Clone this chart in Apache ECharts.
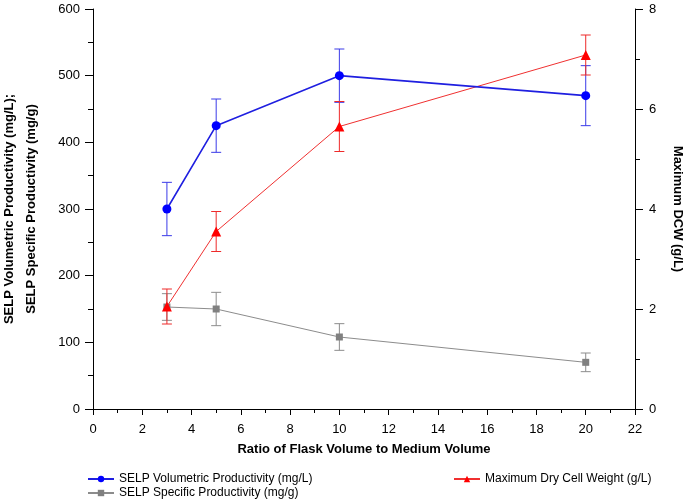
<!DOCTYPE html>
<html><head><meta charset="utf-8">
<script src="https://cdn.jsdelivr.net/npm/echarts@6/dist/echarts.min.js"></script>
<style>html,body{margin:0;padding:0;background:#fff}#c{width:685px;height:500px}</style>
</head><body><div id="c"></div>
<script>
var ratios = [3, 5, 10, 20];
var volProd = [300, 425, 500, 470];
var volProdErr = [40, 40, 40, 45];
var dcw = [2.05, 3.55, 5.65, 7.08];
var dcwErr = [0.35, 0.4, 0.5, 0.4];
var specProd = [153, 150, 108, 70];
var specProdErr = [20, 25, 20, 14];
var xTicks = [0, 2, 4, 6, 8, 10, 12, 14, 16, 18, 20, 22];
var leftTicks = [0, 100, 200, 300, 400, 500, 600];
var rightTicks = [0, 2, 4, 6, 8];

var FONT = '"Liberation Sans", Arial, sans-serif';
function pts(xs, ys){ return xs.map(function(x,i){return [x, ys[i]];}); }
function errData(xs, ys, es){ return xs.map(function(x,i){return [x, ys[i]-es[i], ys[i]+es[i]];}); }
function errSeries(name, data, yIdx, color){
  return {
    type: 'custom', name: name + ' err', yAxisIndex: yIdx, z: 1, silent: true,
    data: data,
    renderItem: function(params, api){
      var lo = api.coord([api.value(0), api.value(1)]);
      var hi = api.coord([api.value(0), api.value(2)]);
      var w = 5;
      var st = {stroke: color, lineWidth: 1, fill: null};
      return {type:'group', children:[
        {type:'line', shape:{x1:lo[0], y1:lo[1], x2:hi[0], y2:hi[1]}, style: st},
        {type:'line', shape:{x1:lo[0]-w, y1:lo[1], x2:lo[0]+w, y2:lo[1]}, style: st},
        {type:'line', shape:{x1:hi[0]-w, y1:hi[1], x2:hi[0]+w, y2:hi[1]}, style: st}
      ]};
    }
  };
}
var axisCommon = {
  axisLine: {show: true, lineStyle: {color: '#000', width: 1}},
  splitLine: {show: false},
  nameTextStyle: {color: '#000', fontSize: 13, fontWeight: 'bold', fontFamily: FONT}
};
var legText = {fontSize: 12, fontFamily: FONT, color: '#000'};
var chart = echarts.init(document.getElementById('c'));
chart.setOption({
  animation: false,
  backgroundColor: '#fff',
  grid: {left: 93, right: 50, top: 9, bottom: 91, containLabel: false, outerBoundsMode: 'none'},
  xAxis: Object.assign({}, axisCommon, {
    type: 'value', min: xTicks[0], max: xTicks[xTicks.length-1], interval: 2,
    name: 'Ratio of Flask Volume to Medium Volume', nameLocation: 'middle', nameGap: 34,
    axisTick: {show: true, inside: false, length: 6, lineStyle: {color: '#000'}},
    minorTick: {show: true, splitNumber: 2, length: 4, lineStyle: {color: '#000'}},
    axisLabel: {color: '#000', fontSize: 13, fontFamily: FONT, margin: 14}
  }),
  yAxis: [
    Object.assign({}, axisCommon, {
      type: 'value', min: leftTicks[0], max: leftTicks[leftTicks.length-1], interval: 100,
      name: 'SELP Volumetric Productivity (mg/L);\nSELP Specific Productivity (mg/g)',
      nameLocation: 'middle', nameGap: 51,
      nameTextStyle: {color: '#000', fontSize: 13, fontWeight: 'bold', fontFamily: FONT, lineHeight: 22},
      axisTick: {show: true, inside: false, length: 8, lineStyle: {color: '#000'}},
      minorTick: {show: true, splitNumber: 2, length: 5, lineStyle: {color: '#000'}},
      axisLabel: {color: '#000', fontSize: 13, fontFamily: FONT, margin: 13}
    }),
    Object.assign({}, axisCommon, {
      type: 'value', position: 'right', min: rightTicks[0], max: rightTicks[rightTicks.length-1], interval: 2,
      name: 'Maximum DCW (g/L)', nameLocation: 'middle', nameGap: 36, nameRotate: -90,
      axisTick: {show: true, inside: false, length: 8, lineStyle: {color: '#000'}},
      minorTick: {show: true, splitNumber: 2, length: 5, lineStyle: {color: '#000'}},
      axisLabel: {color: '#000', fontSize: 13, fontFamily: FONT, margin: 14}
    })
  ],
  legend: [
    {left: 87, top: 473, padding: 0, itemWidth: 26, itemHeight: 8, textStyle: legText,
     data: [{name: 'SELP Volumetric Productivity (mg/L)'}]},
    {left: 87, top: 487, padding: 0, itemWidth: 26, itemHeight: 8, textStyle: legText,
     data: [{name: 'SELP Specific Productivity (mg/g)'}]},
    {left: 453, top: 473, padding: 0, itemWidth: 26, itemHeight: 8, textStyle: legText,
     data: [{name: 'Maximum Dry Cell Weight (g/L)'}]}
  ],
  series: [
    errSeries('vol', errData(ratios, volProd, volProdErr), 0, '#3a3ae8'),
    errSeries('spec', errData(ratios, specProd, specProdErr), 0, '#8c8c8c'),
    errSeries('dcw', errData(ratios, dcw, dcwErr), 1, '#ee2a2a'),
    {type: 'line', name: 'SELP Specific Productivity (mg/g)', yAxisIndex: 0, z: 2,
     data: pts(ratios, specProd), symbol: 'rect', symbolSize: 7,
     lineStyle: {color: '#8c8c8c', width: 1}, itemStyle: {color: '#808080'}},
    {type: 'line', name: 'Maximum Dry Cell Weight (g/L)', yAxisIndex: 1, z: 3,
     data: pts(ratios, dcw), symbol: 'triangle', symbolSize: 10,
     lineStyle: {color: '#f03030', width: 1}, itemStyle: {color: '#ff0000'}},
    {type: 'line', name: 'SELP Volumetric Productivity (mg/L)', yAxisIndex: 0, z: 4,
     data: pts(ratios, volProd), symbol: 'circle', symbolSize: 9,
     lineStyle: {color: '#1f1fe0', width: 1.6}, itemStyle: {color: '#0000ff'}}
  ]
});
</script>
</body></html>
